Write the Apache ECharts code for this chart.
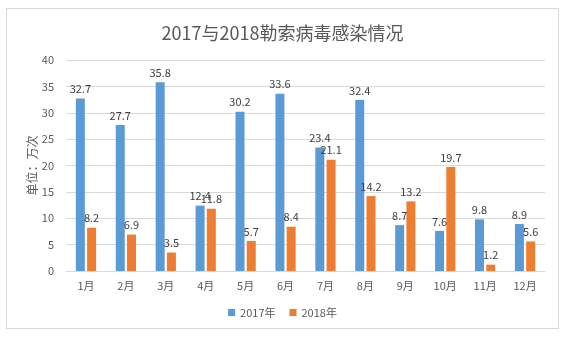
<!DOCTYPE html>
<html><head><meta charset="utf-8">
<script src="https://cdn.jsdelivr.net/npm/echarts@6/dist/echarts.min.js"></script>
<style>
html,body{margin:0;padding:0;background:#fff;}
#frame{position:absolute;left:6px;top:8px;width:553px;height:321px;border:1px solid #d9d9d9;box-sizing:border-box;}
#c{position:absolute;left:0;top:0;width:565px;height:339px;}
</style></head>
<body><div id="frame"></div><div id="c"></div>
<script>
var categories = ['1月','2月','3月','4月','5月','6月','7月','8月','9月','10月','11月','12月'];
var s2017 = [32.7, 27.7, 35.8, 12.4, 30.2, 33.6, 23.4, 32.4, 8.7, 7.6, 9.8, 8.9];
var s2018 = [8.2, 6.9, 3.5, 11.8, 5.7, 8.4, 21.1, 14.2, 13.2, 19.7, 1.2, 5.6];
var yTicks = [0,5,10,15,20,25,30,35,40];
var font = '"Noto Sans CJK SC", "Microsoft YaHei", sans-serif';
var chart = echarts.init(document.getElementById('c'));
chart.setOption({
  animation:false,
  textStyle:{fontFamily:font},
  title:{text:'2017与2018勒索病毒感染情况',left:'center',top:19,textStyle:{fontSize:18,fontWeight:'normal',color:'#595959',fontFamily:font}},
  legend:{bottom:16,left:'center',itemWidth:7,itemHeight:7,itemGap:14,icon:'rect',textStyle:{fontSize:11,color:'#595959',fontFamily:font},data:['2017年','2018年']},
  grid:{left:66,right:20,top:60,bottom:68},
  xAxis:{type:'category',data:categories,axisTick:{show:false},axisLine:{lineStyle:{color:'#d9d9d9'}},axisLabel:{color:'#595959',fontSize:11,margin:9}},
  yAxis:{type:'value',min:0,max:40,interval:5,name:'单位：万次',nameLocation:'middle',nameGap:28,nameMoveOverlap:false,nameRotate:90,nameTextStyle:{color:'#595959',fontSize:12},
    axisLabel:{color:'#595959',fontSize:11,margin:12},splitLine:{lineStyle:{color:'#d9d9d9'}},axisLine:{show:false},axisTick:{show:false}},
  series:[
    {name:'2017年',type:'bar',data:s2017,barWidth:9,barGap:'25%',itemStyle:{color:'#5B9BD5'},label:{show:true,position:'top',color:'#404040',fontSize:11,distance:4}},
    {name:'2018年',type:'bar',data:s2018,barWidth:9,itemStyle:{color:'#ED7D31'},label:{show:true,position:'top',color:'#404040',fontSize:11,distance:4}}
  ]
});
</script></body></html>
